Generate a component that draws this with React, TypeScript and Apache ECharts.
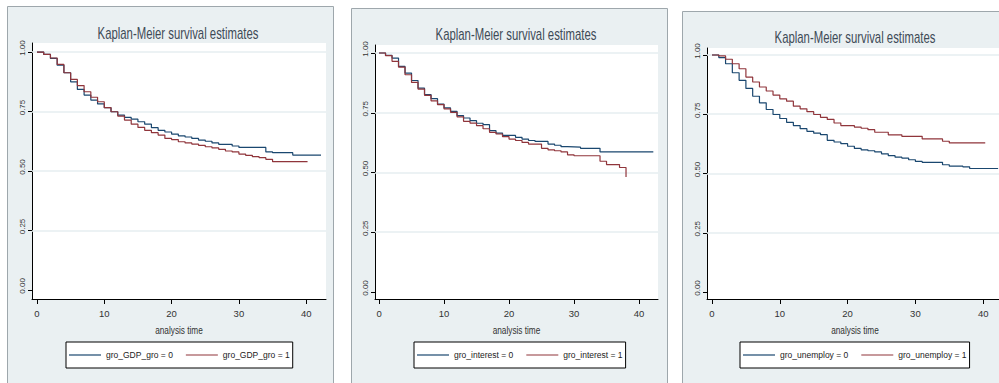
import React, { useEffect, useRef } from "react";
import * as echarts from "echarts";

// ---------- data ----------
const xTicks = [0, 10, 20, 30, 40];
const yTicks = [0, 0.25, 0.5, 0.75, 1];
const titleText = "Kaplan-Meier survival estimates";
const xAxisName = "analysis time";

// Panel 1: gro_GDP_gro
const gdpNames = ["gro_GDP_gro = 0", "gro_GDP_gro = 1"];
const gdp0Time = [0, 1, 2, 3, 4, 5, 6, 7, 8, 9, 10, 11, 12, 13, 14, 15, 16, 17, 18, 19, 20, 21, 22, 23, 24, 25, 26, 27, 29, 30, 34, 35, 38, 42.2];
const gdp0Surv = [1, 0.99, 0.973, 0.945, 0.913, 0.875, 0.843, 0.819, 0.798, 0.782, 0.766, 0.749, 0.735, 0.725, 0.718, 0.707, 0.697, 0.682, 0.671, 0.664, 0.655, 0.648, 0.643, 0.637, 0.63, 0.625, 0.618, 0.612, 0.605, 0.599, 0.58, 0.577, 0.567, 0.567];
const gdp1Time = [0, 1, 2, 3, 4, 5, 6, 7, 8, 9, 10, 11, 12, 13, 14, 15, 16, 17, 18, 19, 20, 21, 22, 23, 24, 25, 26, 27, 28, 29, 30, 31, 32, 33, 34, 35, 40.2];
const gdp1Surv = [1, 0.99, 0.975, 0.948, 0.913, 0.885, 0.859, 0.833, 0.81, 0.791, 0.766, 0.749, 0.731, 0.714, 0.697, 0.683, 0.671, 0.661, 0.651, 0.637, 0.632, 0.623, 0.618, 0.613, 0.608, 0.602, 0.597, 0.591, 0.584, 0.58, 0.571, 0.566, 0.56, 0.556, 0.549, 0.539, 0.539];

// Panel 2: gro_interest
const intNames = ["gro_interest = 0", "gro_interest = 1"];
const int0Time = [0, 1, 2, 3, 4, 5, 6, 7, 8, 9, 10, 11, 12, 13, 14, 15, 16, 17, 18, 19, 21, 22, 23, 24, 26, 27, 28, 29, 31, 34, 42.2];
const int0Surv = [1, 0.99, 0.979, 0.944, 0.916, 0.885, 0.853, 0.826, 0.809, 0.786, 0.77, 0.756, 0.738, 0.728, 0.717, 0.706, 0.7, 0.675, 0.665, 0.655, 0.647, 0.64, 0.634, 0.63, 0.619, 0.614, 0.608, 0.606, 0.601, 0.586, 0.586];
const int1Time = [0, 1, 2, 3, 4, 5, 6, 7, 8, 9, 10, 11, 12, 13, 14, 15, 16, 17, 18, 19, 20, 21, 22, 23, 25, 26, 27, 28, 29, 30, 34, 35, 37, 38];
const int1Surv = [1, 0.989, 0.965, 0.941, 0.909, 0.877, 0.849, 0.823, 0.8, 0.784, 0.766, 0.752, 0.733, 0.714, 0.707, 0.696, 0.683, 0.668, 0.661, 0.65, 0.64, 0.634, 0.626, 0.619, 0.601, 0.595, 0.591, 0.586, 0.574, 0.57, 0.547, 0.533, 0.521, 0.481];

// Panel 3: gro_unemploy
const uneNames = ["gro_unemploy = 0", "gro_unemploy = 1"];
const une0Time = [0, 1, 2, 3, 4, 5, 6, 7, 8, 9, 10, 11, 12, 13, 14, 15, 16, 17, 18, 19, 20, 21, 22, 23, 24, 25, 26, 27, 28, 29, 30, 31, 34, 35, 37, 38, 42.2];
const une0Surv = [1, 0.989, 0.963, 0.925, 0.893, 0.859, 0.826, 0.798, 0.77, 0.749, 0.732, 0.716, 0.702, 0.689, 0.678, 0.67, 0.664, 0.64, 0.633, 0.626, 0.615, 0.606, 0.6, 0.596, 0.591, 0.583, 0.575, 0.569, 0.565, 0.558, 0.551, 0.547, 0.537, 0.531, 0.528, 0.521, 0.521];
const une1Time = [0, 1, 2, 3, 4, 5, 6, 7, 8, 9, 10, 11, 12, 13, 14, 15, 16, 17, 18, 19, 21, 22, 23, 24, 26, 28, 31, 34, 35, 40.3];
const une1Surv = [1, 0.996, 0.982, 0.963, 0.942, 0.907, 0.886, 0.865, 0.848, 0.831, 0.815, 0.805, 0.784, 0.773, 0.761, 0.749, 0.737, 0.728, 0.713, 0.702, 0.696, 0.691, 0.685, 0.674, 0.663, 0.657, 0.646, 0.636, 0.629, 0.629];

// ---------- styling / layout ----------
const BLUE = "#1a476f";
const RED = "#90353b";
const PANEL_BG = "#eaf0f2";
const PANEL_BORDER = "#9ea7ac";
const GRIDLINE = "#e6eef1";
const TEXT = "#333";
const SANS = '"Liberation Sans", Arial, sans-serif';

const zip = (t: number[], s: number[]) => t.map((v, i) => [v, s[i]]);

const panels = [
  {
    names: gdpNames, d0: zip(gdp0Time, gdp0Surv), d1: zip(gdp1Time, gdp1Surv),
    grid: { left: 32, top: 43, width: 294, height: 256 },
    x: [-0.74, 42.94], y: [-0.038, 1.038],
    bg: { x: 7.5, y: 6.5, w: 326 }, title: [178, 33], legend: [66, 342],
  },
  {
    names: intNames, d0: zip(int0Time, int0Surv), d1: zip(int1Time, int1Surv),
    grid: { left: 375, top: 45, width: 283, height: 254 },
    x: [-0.62, 42.92], y: [-0.0293, 1.0335],
    bg: { x: 351.5, y: 8.5, w: 316 }, title: [516, 34], legend: [414, 342],
  },
  {
    names: uneNames, d0: zip(une0Time, une0Surv), d1: zip(une1Time, une1Surv),
    grid: { left: 707, top: 48, width: 296, height: 251 },
    x: [-0.737, 42.92], y: [-0.0295, 1.0295],
    bg: { x: 682.5, y: 11.5, w: 330 }, title: [855, 37], legend: [740, 342],
  },
];

export default function App() {
  const ref = useRef<HTMLDivElement>(null);
  useEffect(() => {
    if (!ref.current) return;
    const chart = echarts.init(ref.current, undefined, { renderer: "svg" });

    const graphic: any[] = [];
    panels.forEach((p) => {
      graphic.push({
        type: "rect", z: -10, silent: true,
        shape: { x: p.bg.x, y: p.bg.y, width: p.bg.w, height: 400 },
        style: { fill: PANEL_BG, stroke: PANEL_BORDER, lineWidth: 1 },
      });
      graphic.push({
        type: "text", z: 10, silent: true,
        x: p.title[0], y: p.title[1], scaleX: 0.71, scaleY: 1,
        style: {
          text: titleText, fill: "#3e4b57", fontSize: 16, fontFamily: SANS,
          textAlign: "center", textVerticalAlign: "middle", align: "center", verticalAlign: "middle",
        },
      });
      graphic.push({
        type: "text", z: 10, silent: true,
        x: p.grid.left + p.grid.width / 2, y: 330, scaleX: 0.75, scaleY: 1,
        style: {
          text: xAxisName, fill: TEXT, fontSize: 11, fontFamily: SANS,
          textAlign: "center", textVerticalAlign: "middle", align: "center", verticalAlign: "middle",
        },
      });
    });

    const option: any = {
      animation: false,
      backgroundColor: "transparent",
      graphic,
      grid: panels.map((p) => ({
        ...p.grid, show: true, backgroundColor: "#ffffff", borderWidth: 0, containLabel: false,
      })),
      xAxis: panels.map((p, i) => ({
        type: "value", gridIndex: i, min: p.x[0], max: p.x[1],
        axisLine: { show: true, onZero: false, lineStyle: { color: "#000", width: 1 } },
        axisTick: { show: true, customValues: xTicks, length: 5, lineStyle: { color: "#000" } },
        axisLabel: { customValues: xTicks, fontFamily: SANS, fontSize: 9.5, color: TEXT, margin: 9 },
        splitLine: { show: false },
      })),
      yAxis: panels.map((p, i) => ({
        type: "value", gridIndex: i, min: p.y[0], max: p.y[1],
        axisLine: { show: true, onZero: false, lineStyle: { color: "#000", width: 1 } },
        axisTick: { show: true, customValues: yTicks, length: 4, lineStyle: { color: "#000" } },
        axisLabel: {
          customValues: yTicks, rotate: 90, fontFamily: SANS, fontSize: 8, color: TEXT, margin: 6,
          formatter: (v: number) => v.toFixed(2), padding: [0, 0, 0, 8],
        },
        splitLine: { show: false },
      })),
      legend: panels.map((p) => ({
        data: p.names, left: p.legend[0], top: p.legend[1],
        orient: "horizontal", backgroundColor: "#ffffff", borderColor: "#000", borderWidth: 1,
        padding: [8, 3, 8, 3], itemGap: 13, itemWidth: 32, itemHeight: 1.2, icon: "rect",
        textStyle: { fontFamily: SANS, fontSize: 8.5, color: "#222", lineHeight: 10 },
        selectedMode: false,
      })),
      series: panels.flatMap((p, i) => [
        {
          type: "line", name: p.names[0], xAxisIndex: i, yAxisIndex: i, step: "end",
          data: p.d0, symbol: "none", showSymbol: false, color: BLUE,
          lineStyle: { color: BLUE, width: 1.2 }, z: 3,
          markLine: {
            silent: true, symbol: ["none", "none"], z: 1, label: { show: false },
            lineStyle: { color: GRIDLINE, width: 1.5, type: "solid" },
            data: yTicks.filter((v) => v > 0).map((v) => ({ yAxis: v })),
          },
        },
        {
          type: "line", name: p.names[1], xAxisIndex: i, yAxisIndex: i, step: "end",
          data: p.d1, symbol: "none", showSymbol: false, color: RED,
          lineStyle: { color: RED, width: 1.2 }, z: 3,
        },
      ]),
    };
    chart.setOption(option);
    return () => chart.dispose();
  }, []);

  return (
    <div style={{ position: "fixed", left: 0, top: 0, width: 999, height: 383, overflow: "hidden", background: "#fff" }}>
      <div ref={ref} style={{ position: "absolute", left: 0, top: 0, width: 1012, height: 383 }} />
    </div>
  );
}
